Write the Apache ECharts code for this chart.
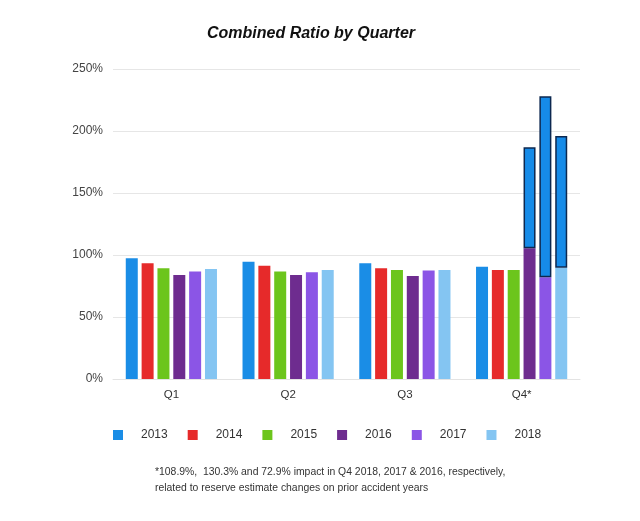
<!DOCTYPE html>
<html>
<head>
<meta charset="utf-8">
<script src="https://cdn.jsdelivr.net/npm/echarts@6/dist/echarts.min.js"></script>
<style>
  html, body { margin: 0; padding: 0; background: #fff; }
  #chart { width: 640px; height: 521px; }
</style>
</head>
<body>
<div id="chart"></div>
<script>
// values (percent)
const quarters = ['Q1', 'Q2', 'Q3', 'Q4*']
const years = ['2013', '2014', '2015', '2016', '2017', '2018']
const ratio2013 = [97.3, 94.6, 93.3, 90.6]
const ratio2014 = [93.3, 91.4, 89.3, 87.9]
const ratio2015 = [89.3, 86.6, 87.9, 87.9]
const ratio2016 = [83.9, 83.9, 83.1, 105.4]
const ratio2017 = [86.6, 86.0, 87.4, 82.0]
const ratio2018 = [88.7, 88.0, 87.9, 89.8]
// Q4 reserve impact boxes drawn on top of the 2016/2017/2018 bars
const impact2016 = ['-', '-', '-', 81.4]
const impact2017 = ['-', '-', '-', 146.0]
const impact2018 = ['-', '-', '-', 106.2]
const yTicks = [0, 50, 100, 150, 200, 250]

const colors = ['#1a8de6', '#e62a2a', '#6cc51c', '#6e2c8f', '#8b55e6', '#84c5f2']
const series = [ratio2013, ratio2014, ratio2015, ratio2016, ratio2017, ratio2018]
const impacts = { '2016': impact2016, '2017': impact2017, '2018': impact2018 }

const chart = echarts.init(document.getElementById('chart'))

const seriesOptions = []
years.forEach((y, i) => {
  seriesOptions.push({
    name: y,
    type: 'bar',
    stack: 's' + y,
    barWidth: 12,
    barGap: '32%',
    itemStyle: { color: colors[i] },
    data: series[i]
  })
})
Object.keys(impacts).forEach(y => {
  seriesOptions.push({
    name: y + ' impact',
    type: 'bar',
    stack: 's' + y,
    barWidth: 12,
    barGap: '32%',
    itemStyle: { color: '#168be8', borderColor: '#0c2850', borderWidth: 1.5 },
    data: impacts[y]
  })
})

chart.setOption({
  animation: false,
  color: colors,
  title: {
    text: 'Combined Ratio by Quarter',
    left: 306,
    top: 21,
    textAlign: 'center',
    textStyle: { fontFamily: 'Liberation Sans', fontSize: 16, fontWeight: 'bold', fontStyle: 'italic', color: '#111' }
  },
  legend: {
    data: years,
    left: 108,
    top: 424,
    itemWidth: 10,
    itemHeight: 10,
    itemGap: 20,
    icon: 'rect',
    textStyle: { fontFamily: 'Liberation Sans', fontSize: 12, color: '#333', padding: [0, 0, 0, 13] }
  },
  grid: { left: 113, right: 60, top: 69, bottom: 142 },
  xAxis: {
    type: 'category',
    data: quarters,
    axisTick: { show: false },
    axisLine: { lineStyle: { color: '#e3e3e3' } },
    axisLabel: { fontFamily: 'Liberation Sans', fontSize: 11.5, color: '#333', margin: 10 }
  },
  yAxis: {
    type: 'value',
    min: yTicks[0],
    max: yTicks[yTicks.length - 1],
    interval: 50,
    axisLabel: { formatter: '{value}%', fontFamily: 'Liberation Sans', fontSize: 12, color: '#444', margin: 10 },
    splitLine: { lineStyle: { color: '#e6e6e6' } },
    axisLine: { show: false },
    axisTick: { show: false }
  },
  graphic: [{
    type: 'text',
    left: 155,
    top: 464,
    style: {
      text: '*108.9%,  130.3% and 72.9% impact in Q4 2018, 2017 & 2016, respectively,\nrelated to reserve estimate changes on prior accident years',
      font: '10.4px "Liberation Sans"',
      fill: '#333',
      lineHeight: 16
    }
  }],
  series: seriesOptions
})
</script>
</body>
</html>
